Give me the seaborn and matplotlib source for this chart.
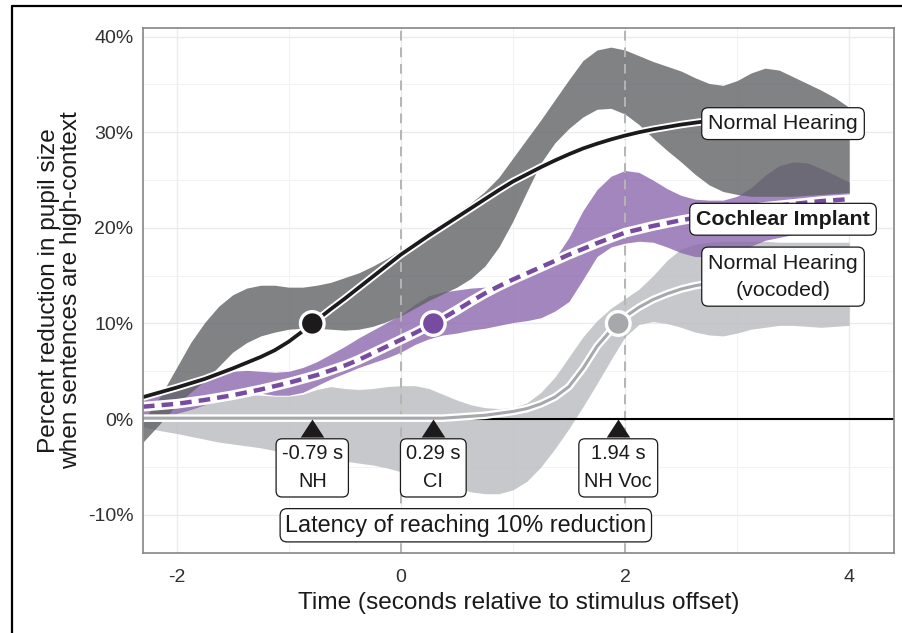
"""
Pupil-size reduction over time for high- vs low-context sentences,
three listener groups, with latency markers for reaching 10% reduction.
"""

import pandas as pd
import matplotlib
matplotlib.use("Agg")
import matplotlib.pyplot as plt
from matplotlib.lines import Line2D
from matplotlib.ticker import FuncFormatter, MultipleLocator
import seaborn as sns

# ── Data (percent) ──────────────────────────────────────────────────────────
time_s = [-2.3, -2.15, -2.0, -1.875, -1.75, -1.625, -1.5, -1.375, -1.25, -1.125,
          -1.0, -0.875, -0.75, -0.625, -0.5, -0.375, -0.25, -0.125, 0.0, 0.125,
          0.25, 0.375, 0.5, 0.625, 0.75, 0.875, 1.0, 1.125, 1.25, 1.375,
          1.5, 1.625, 1.75, 1.875, 2.0, 2.125, 2.25, 2.375, 2.5, 2.625,
          2.75, 2.875, 3.0, 3.125, 3.25, 3.375, 3.5, 3.625, 3.75, 3.875, 4.0]

nh_fit = [2.3, 2.8, 3.3, 3.75, 4.2, 4.75, 5.3, 5.9, 6.5, 7.2,
          8.1, 9.2, 10.35, 11.5, 12.6, 13.75, 14.9, 16.05, 17.2, 18.2,
          19.2, 20.15, 21.1, 22.05, 23.0, 23.95, 24.85, 25.6, 26.35, 27.05,
          27.7, 28.3, 28.8, 29.25, 29.65, 30.0, 30.3, 30.55, 30.8, 31.0,
          31.2, 31.35, 31.5, 31.6, 31.7, 31.8, 31.9, 31.95, 32.0, 32.05, 32.1]
nh_hi = [-0.2, 2.3, 5.4, 8.0, 10.1, 11.8, 13.0, 13.7, 14.0, 14.0,
         13.8, 13.8, 14.0, 14.3, 14.8, 15.3, 16.0, 16.8, 17.7, 18.6,
         19.6, 20.6, 21.6, 22.6, 23.8, 25.3, 27.3, 29.3, 31.3, 33.4,
         35.5, 37.5, 38.6, 38.9, 38.6, 38.0, 37.4, 36.9, 36.4, 35.7,
         35.1, 34.9, 35.4, 36.2, 36.7, 36.5, 35.8, 35.1, 34.4, 33.6, 32.6]
nh_lo = [-2.4, -0.5, 1.5, 2.8, 4.0, 5.5, 7.0, 8.0, 8.7, 9.1,
         9.4, 9.5, 9.5, 9.4, 9.3, 9.4, 9.7, 10.2, 10.8, 11.6,
         12.4, 13.1, 13.8, 14.7, 16.0, 18.0, 20.7, 23.8, 26.8, 28.9,
         30.4, 31.6, 32.4, 32.5, 31.9, 30.8, 29.4, 28.1, 26.9, 25.6,
         24.5, 23.8, 23.5, 23.3, 23.3, 23.3, 23.3, 23.4, 23.5, 23.6, 23.7]

ci_fit = [1.3, 1.45, 1.6, 1.8, 2.0, 2.25, 2.5, 2.8, 3.1, 3.45,
          3.8, 4.2, 4.6, 5.1, 5.6, 6.2, 6.9, 7.6, 8.3, 9.0,
          9.75, 10.55, 11.4, 12.3, 13.15, 13.9, 14.6, 15.25, 15.9, 16.55,
          17.2, 17.8, 18.4, 18.95, 19.5, 19.85, 20.2, 20.5, 20.8, 21.05,
          21.3, 21.55, 21.8, 22.0, 22.2, 22.35, 22.5, 22.65, 22.8, 22.9, 23.0]
ci_hi = [2.0, 2.6, 3.2, 3.7, 4.2, 4.7, 5.0, 5.1, 5.0, 4.9,
         5.0, 5.4, 6.0, 6.8, 7.6, 8.5, 9.3, 10.1, 10.9, 12.0,
         12.9, 13.3, 13.5, 13.7, 13.8, 14.0, 14.3, 14.8, 15.5, 16.8,
         19.0, 21.8, 24.0, 25.4, 26.0, 25.8, 25.0, 24.1, 23.4, 23.0,
         22.9, 22.9, 23.3, 24.2, 25.5, 26.5, 26.9, 26.8, 26.2, 25.5, 24.8]
ci_lo = [0.2, 0.4, 0.6, 1.0, 1.5, 2.2, 2.8, 2.9, 2.7, 2.5,
         2.5, 2.8, 3.5, 4.2, 4.8, 5.4, 5.9, 6.4, 7.0, 7.8,
         8.4, 8.8, 9.0, 9.3, 9.5, 9.8, 10.1, 10.3, 10.6, 11.3,
         12.3, 14.6, 17.0, 18.0, 18.4, 18.6, 18.5, 18.0, 17.4, 17.0,
         17.0, 17.2, 17.6, 18.1, 18.7, 19.0, 19.3, 19.5, 19.6, 19.7, 19.8]

voc_fit = [0.1, 0.1, 0.1, 0.1, 0.1, 0.1, 0.1, 0.1, 0.1, 0.1,
           0.1, 0.1, 0.1, 0.1, 0.1, 0.1, 0.1, 0.1, 0.1, 0.1,
           0.1, 0.1, 0.2, 0.3, 0.4, 0.6, 0.8, 1.1, 1.6, 2.3,
           3.4, 5.3, 7.6, 9.3, 10.7, 11.7, 12.5, 13.1, 13.6, 13.95,
           14.2, 14.4, 14.5, 14.55, 14.6, 14.65, 14.7, 14.7, 14.7, 14.7, 14.7]
voc_hi = [0.5, 0.9, 1.3, 1.7, 2.1, 2.4, 2.6, 2.6, 2.5, 2.4,
          2.4, 2.6, 3.1, 3.4, 3.2, 3.1, 3.2, 3.4, 3.5, 3.5,
          3.2, 2.6, 2.0, 1.5, 1.2, 1.1, 1.2, 1.7, 2.8, 4.4,
          6.5, 8.6, 10.3, 11.6, 12.6, 13.6, 15.0, 16.6, 17.8, 18.3,
          18.5, 18.6, 18.6, 18.6, 18.6, 18.5, 18.5, 18.5, 18.5, 18.5, 18.5]
voc_lo = [-0.8, -1.2, -1.5, -1.8, -2.1, -2.4, -2.6, -2.8, -3.0, -3.3,
          -3.6, -3.9, -4.1, -4.3, -4.4, -4.6, -4.8, -5.1, -5.5, -5.9,
          -6.4, -6.8, -7.2, -7.6, -7.8, -7.8, -7.4, -6.5, -5.0, -3.1,
          -1.0, 1.3, 3.7, 6.2, 8.6, 9.9, 10.2, 10.0, 9.6, 9.1,
          8.8, 8.7, 9.0, 9.4, 9.6, 9.8, 9.8, 9.7, 9.6, 9.7, 9.8]

latency_s = [-0.79, 0.29, 1.94]
latency_groups = ["NH", "CI", "NH Voc"]
group_labels = ["Normal Hearing", "Cochlear Implant", "Normal Hearing\n(vocoded)"]

# ── Styling ─────────────────────────────────────────────────────────────────
C_NH, C_CI, C_VOC = "#1c1a1b", "#774b9f", "#a6a8ab"
BAND_NH, BAND_CI, BAND_VOC = "#606366", "#8c68ae", "#babbbe"

sns.set_theme(style="whitegrid")
plt.rcParams["font.family"] = ["Liberation Sans", "DejaVu Sans"]
plt.rcParams["axes.unicode_minus"] = False

df = pd.DataFrame({"t": time_s, "nh": nh_fit, "ci": ci_fit, "voc": voc_fit})

fig = plt.figure(figsize=(9.03, 6.33), dpi=100)
ax = fig.add_axes([143 / 903, 1 - 553 / 633, 751 / 903, 525 / 633])

# bands
ax.fill_between(time_s, voc_lo, voc_hi, color=BAND_VOC, alpha=0.8, lw=0, zorder=1.0)
ax.fill_between(time_s, ci_lo, ci_hi, color=BAND_CI, alpha=0.8, lw=0, zorder=1.1)
ax.fill_between(time_s, nh_lo, nh_hi, color=BAND_NH, alpha=0.8, lw=0, zorder=1.2)

# reference lines
for x0 in (0, 2):
    ax.axvline(x0, color="#b5b5b5", lw=1.4, dashes=(5, 3.5), zorder=1.5)
ax.axhline(0, color="black", lw=1.5, zorder=1.8)

# fitted curves with white halos
sns.lineplot(data=df, x="t", y="voc", color="white", lw=5.5, sort=False,
             errorbar=None, ax=ax, zorder=2.0)
sns.lineplot(data=df, x="t", y="voc", color=C_VOC, lw=2.2, sort=False,
             errorbar=None, ax=ax, zorder=2.1)
sns.lineplot(data=df, x="t", y="ci", color="white", lw=7.0, sort=False,
             errorbar=None, ax=ax, zorder=2.2)
sns.lineplot(data=df, x="t", y="ci", color=C_CI, lw=3.2, sort=False,
             errorbar=None, ax=ax, zorder=2.3)
ax.lines[-1].set_dashes((2.6, 1.6))
sns.lineplot(data=df, x="t", y="nh", color="white", lw=5.4, sort=False,
             errorbar=None, ax=ax, zorder=2.4)
sns.lineplot(data=df, x="t", y="nh", color=C_NH, lw=2.7, sort=False,
             errorbar=None, ax=ax, zorder=2.5)

# 10% crossing points
sns.scatterplot(x=latency_s, y=[10, 10, 10], hue=latency_groups,
                palette=[C_NH, C_CI, C_VOC], s=290, edgecolor="white",
                linewidth=2.4, legend=False, ax=ax, zorder=3)

# latency arrows + labels
tri = [(0, 0), (-0.65, -1), (0.65, -1), (0, 0)]
ax.scatter(latency_s, [0, 0, 0], marker=tri, s=26 ** 2, color="#1c1a1b",
           lw=0, zorder=3.2)
for t, g in zip(latency_s, latency_groups):
    ax.text(t, -5.1, f"{t:.2f} s\n{g}", ha="center", va="center",
            fontsize=14.4, linespacing=1.6, color="#1a1a1a", zorder=4,
            bbox=dict(boxstyle="round,pad=0.28,rounding_size=0.3",
                      fc="white", ec="#1a1a1a", lw=0.9))
ax.text(0.58, -11.1, "Latency of reaching 10% reduction", ha="center",
        va="center", fontsize=16.8, color="#1a1a1a", zorder=4,
        bbox=dict(boxstyle="round,pad=0.22,rounding_size=0.3",
                  fc="white", ec="#1a1a1a", lw=0.9))

# direct group labels
for y0, lab, w in zip([30.9, 20.9, 14.9], group_labels,
                      ["normal", "bold", "normal"]):
    ax.text(3.41, y0, lab, ha="center", va="center", fontsize=15.4,
            fontweight=w, linespacing=1.55, color="#1a1a1a", zorder=4,
            bbox=dict(boxstyle="round,pad=0.3,rounding_size=0.3",
                      fc="white", ec="#1a1a1a", lw=0.9))

# axes
ax.set_xlim(-2.3, 4.4)
ax.set_ylim(-14.0, 40.9)
ax.set_xticks([-2, 0, 2, 4])
ax.set_yticks([-10, 0, 10, 20, 30, 40])
ax.xaxis.set_minor_locator(MultipleLocator(1))
ax.yaxis.set_minor_locator(MultipleLocator(5))
ax.yaxis.set_major_formatter(FuncFormatter(lambda v, _: f"{v:.0f}%"))
ax.grid(which="major", color="#ebebeb", lw=1.0, zorder=0)
ax.grid(which="minor", color="#f2f2f2", lw=0.7, zorder=0)
ax.set_axisbelow(True)
ax.tick_params(which="major", length=4, width=1.0, color="#333333",
               labelsize=14, labelcolor="#303030", pad=3)
ax.tick_params(axis="x", which="major", pad=7.5)
ax.tick_params(which="minor", length=0)
for sp in ax.spines.values():
    sp.set_color("#858585")
    sp.set_linewidth(1.2)

ax.set_xlabel("Time (seconds relative to stimulus offset)", fontsize=17.6,
              color="#1a1a1a", labelpad=4)
ax.set_ylabel("Percent reduction in pupil size\nwhen sentences are high-context",
              fontsize=17.6, color="#1a1a1a", labelpad=4, linespacing=1.0)

# outer frame of the original figure (left and top edges only)
fig.add_artist(Line2D([12 / 903, 12 / 903], [0, 1 - 6 / 633],
                      transform=fig.transFigure, color="black", lw=1.6))
fig.add_artist(Line2D([12 / 903, 1], [1 - 6 / 633, 1 - 6 / 633],
                      transform=fig.transFigure, color="black", lw=1.6))

fig.savefig("out.png", dpi=100, facecolor="white")
